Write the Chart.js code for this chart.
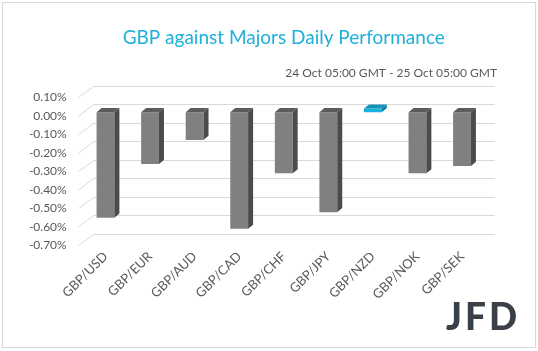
<!DOCTYPE html>
<html>
<head>
<meta charset="utf-8">
<title>GBP against Majors Daily Performance</title>
<script src="https://cdn.jsdelivr.net/npm/chart.js@4.4.0/dist/chart.umd.min.js"></script>
<style>
    html, body { margin: 0; padding: 0; background: #ffffff; }
    #wrap { position: relative; width: 538px; height: 351px; }
    #logo {
        position: absolute; left: 446px; top: 297px;
        font: 900 37px Lato, sans-serif; line-height: 37px;
        color: #3a4048; letter-spacing: 3px;
    }
</style>
</head>
<body>
<div id="wrap">
    <canvas id="chart" width="538" height="351"></canvas>
    <div id="logo">JFD</div>
</div>
<script>
// GBP daily % change against the majors
const pairs = ['GBP/USD', 'GBP/EUR', 'GBP/AUD', 'GBP/CAD', 'GBP/CHF', 'GBP/JPY', 'GBP/NZD', 'GBP/NOK', 'GBP/SEK'];
const changes = [-0.57, -0.28, -0.15, -0.63, -0.33, -0.54, 0.02, -0.33, -0.29];
const yTicks = [0.1, 0, -0.1, -0.2, -0.3, -0.4, -0.5, -0.6, -0.7];
const chartTitle = 'GBP against Majors Daily Performance';
const period = '24 Oct 05:00 GMT - 25 Oct 05:00 GMT';

// pseudo-3D geometry (pixels): floor depth, bar offset from the front, bar depth
const WALL = { dx: 15, dy: 12 };
const FRONT = { dx: 4.6, dy: 3.7 };
const BAR = { dx: 5, dy: 4.2 };

const COLORS = {
    up: { front: '#14b4de', top: '#1593b8', side: '#0f7e9e' },
    down: { front: '#808080', top: '#5c5c5c', side: '#4b4b4b' },
    grid: '#d9d9d9',
    text: '#595959',
    title: '#1eb0da'
};

const colorFor = v => (v >= 0 ? COLORS.up : COLORS.down);

// back wall gridlines + diagonal floor lines, drawn behind the bars
const wallPlugin = {
    id: 'wall',
    beforeDraw(chart) {
        const ctx = chart.ctx;
        ctx.save();
        ctx.strokeStyle = '#d9d9d9';
        ctx.lineWidth = 1;
        ctx.strokeRect(2.5, 2.5, 533, 345);
        ctx.restore();
    },
    beforeDatasetsDraw(chart) {
        const ctx = chart.ctx;
        const y = chart.scales.y;
        const area = chart.chartArea;
        ctx.save();
        ctx.strokeStyle = COLORS.grid;
        ctx.lineWidth = 1;
        yTicks.forEach(v => {
            const py = y.getPixelForValue(v);
            const fx = area.left - FRONT.dx;
            const fy = py + FRONT.dy;
            const by = Math.round(fy - WALL.dy) + 0.5;
            ctx.beginPath();
            ctx.moveTo(fx, fy);
            ctx.lineTo(fx + WALL.dx, by);
            ctx.lineTo(area.right - FRONT.dx + WALL.dx, by);
            ctx.stroke();
        });
        ctx.restore();
    },
    afterDatasetsDraw(chart) {
        const ctx = chart.ctx;
        const meta = chart.getDatasetMeta(0);
        ctx.save();
        meta.data.forEach((bar, i) => {
            const c = colorFor(changes[i]);
            const l = bar.x - bar.width / 2;
            const r = bar.x + bar.width / 2;
            const top = Math.min(bar.y, bar.base);
            const bottom = Math.max(bar.y, bar.base);

            // top face
            ctx.fillStyle = c.top;
            ctx.beginPath();
            ctx.moveTo(l, top);
            ctx.lineTo(r, top);
            ctx.lineTo(r + BAR.dx, top - BAR.dy);
            ctx.lineTo(l + BAR.dx, top - BAR.dy);
            ctx.closePath();
            ctx.fill();

            // right side face
            ctx.fillStyle = c.side;
            ctx.beginPath();
            ctx.moveTo(r, top);
            ctx.lineTo(r + BAR.dx, top - BAR.dy);
            ctx.lineTo(r + BAR.dx, bottom - BAR.dy);
            ctx.lineTo(r, bottom);
            ctx.closePath();
            ctx.fill();
        });
        ctx.restore();
    }
};

const chart = new Chart(document.getElementById('chart'), {
    type: 'bar',
    data: {
        labels: pairs,
        datasets: [{
            data: changes,
            backgroundColor: changes.map(v => colorFor(v).front),
            borderWidth: 0,
            barPercentage: 0.4,
            categoryPercentage: 1
        }]
    },
    options: {
        responsive: false,
        animation: false,
        layout: { padding: { left: 0, right: 41, top: 0, bottom: 0 } },
        plugins: {
            legend: { display: false },
            tooltip: { enabled: false },
            title: {
                display: true,
                fullSize: false,
                text: chartTitle,
                color: COLORS.title,
                font: { family: 'Lato', size: 19, weight: 'normal' },
                padding: { top: 26.6, bottom: 16.4 }
            },
            subtitle: {
                display: true,
                text: period,
                align: 'end',
                color: COLORS.text,
                font: { family: 'Lato', size: 12 },
                padding: { top: 0, bottom: 13.6 }
            }
        },
        scales: {
            x: {
                grid: { display: false, drawTicks: false },
                border: { display: false },
                ticks: {
                    color: COLORS.text,
                    font: { family: 'Lato', size: 13 },
                    minRotation: 45,
                    maxRotation: 45,
                    autoSkip: false,
                    padding: 7
                },
                afterFit(scale) { scale.height = 109.2; }
            },
            y: {
                min: -0.7,
                max: 0.1,
                grid: { display: false, drawTicks: false },
                border: { display: false },
                afterBuildTicks(scale) { scale.ticks = yTicks.map(v => ({ value: v })); },
                ticks: {
                    color: COLORS.text,
                    font: { family: 'Lato', size: 12 },
                    padding: 16.5,
                    labelOffset: 3.5,
                    callback: v => v.toFixed(2) + '%'
                },
                afterFit(scale) { scale.width = 83.2; }
            },
            y2: {
                position: 'right',
                grid: { display: false, drawTicks: false },
                border: { display: false },
                ticks: { display: false },
                afterFit(scale) { scale.width = 12.7; }
            }
        }
    },
    plugins: [wallPlugin]
});
</script>
</body>
</html>
